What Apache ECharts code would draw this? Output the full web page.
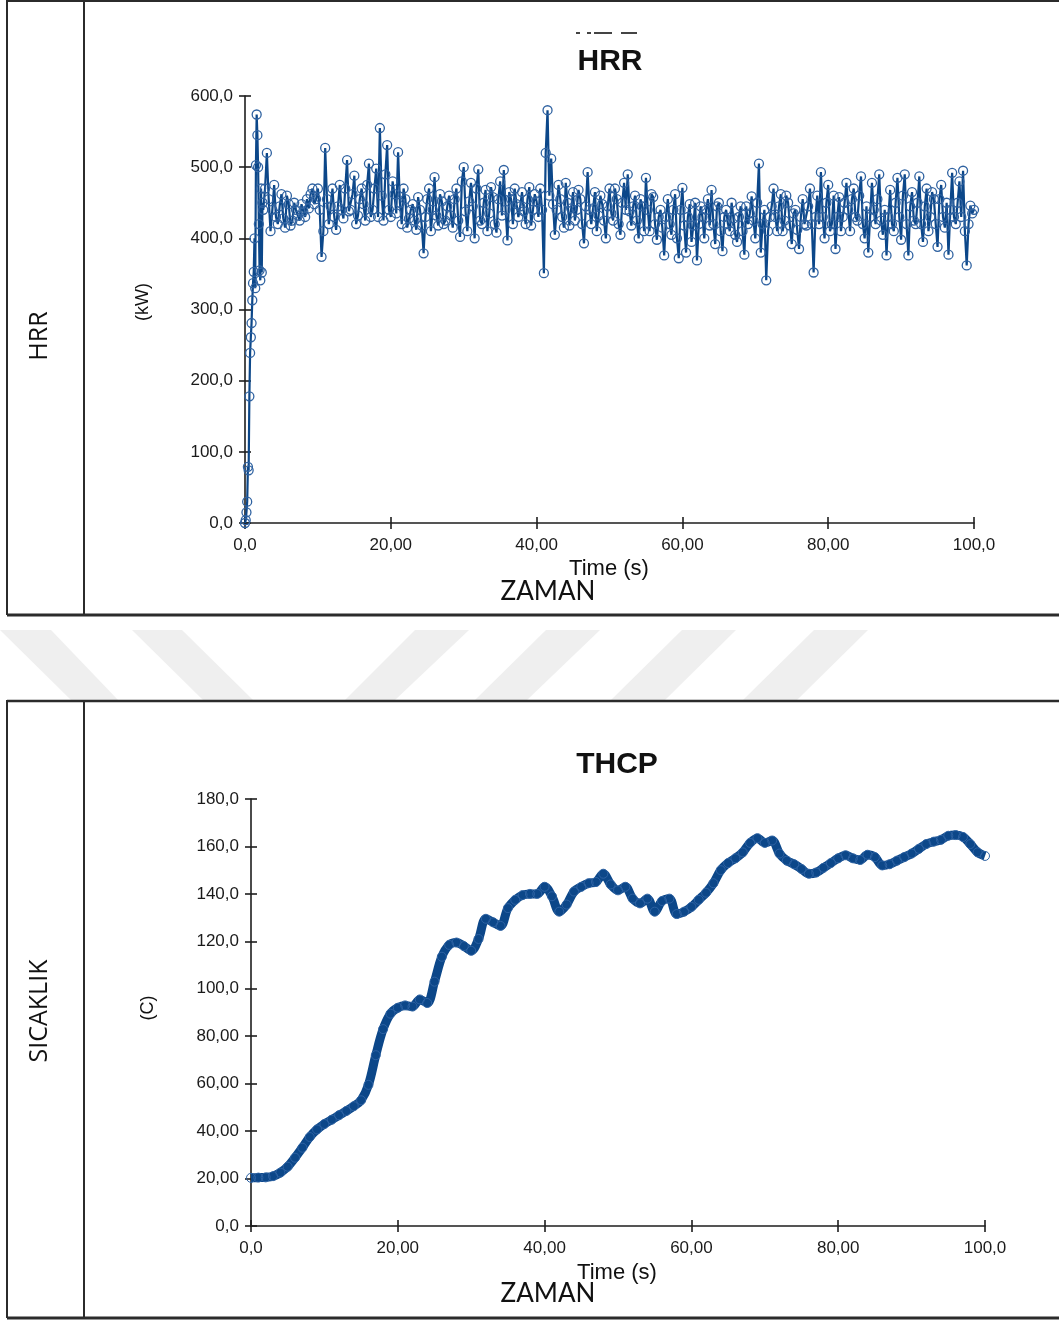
<!DOCTYPE html>
<html>
<head>
<meta charset="utf-8">
<title>HRR / THCP</title>
<script src="https://cdn.jsdelivr.net/npm/echarts@6/dist/echarts.min.js"></script>
<style>
  html, body { margin: 0; padding: 0; background: #fff; }
  #chart { width: 1059px; height: 1320px; }
</style>
</head>
<body>
<div id="chart"></div>
<script>
// ---- Heat release rate (kW) ----
// fast ignition ramp, [time s, kW]
const hrrRamp = [
  [0, 0], [0.1, 4], [0.2, 15], [0.3, 30], [0.4, 79], [0.5, 74], [0.6, 178],
  [0.7, 239], [0.8, 261], [0.9, 281], [1.0, 313], [1.1, 337], [1.2, 353],
  [1.3, 400], [1.4, 330], [1.5, 503], [1.6, 574], [1.7, 545], [1.8, 500],
  [1.9, 420], [2.0, 355], [2.1, 341], [2.2, 470], [2.3, 352], [2.4, 450]
];
// steady burning, readings on the half second: 2.5 s ... 100 s
const HRR_T0 = 2.5;
const HRR_STEP = 0.5;
const hrrValues = [
  440, 520, 410, 475, 420, 462, 415, 448, 425, 440,   // 2.5 - 7.0
  425, 438, 455, 462, 448, 470, 374, 527, 420, 470,   // 7.5 - 12.0
  412, 475, 428, 510, 440, 488, 432, 470, 425, 505,   // 12.5 - 17.0
  440, 498, 555, 425, 531, 430, 462, 521, 420, 455,   // 17.5 - 22.0
  428, 448, 412, 440, 379, 455, 410, 486, 418, 452,   // 22.5 - 27.0
  425, 460, 415, 470, 402, 500, 410, 478, 400, 497,   // 27.5 - 32.0
  420, 468, 435, 458, 408, 480, 496, 397, 455, 470,   // 32.5 - 37.0
  430, 465, 420, 472, 440, 452, 470, 351, 580, 512,   // 37.5 - 42.0
  405, 475, 430, 478, 418, 465, 440, 455, 393, 493,   // 42.5 - 47.0
  420, 465, 432, 448, 400, 470, 425, 455, 405, 478,   // 47.5 - 52.0
  490, 418, 460, 400, 445, 485, 410, 458, 398, 440,   // 52.5 - 57.0
  376, 455, 405, 462, 372, 471, 380, 448, 418, 369,   // 57.5 - 62.0
  445, 400, 455, 468, 392, 450, 382, 440, 410, 428,   // 62.5 - 67.0
  395, 445, 377, 420, 459, 400, 505, 420, 341, 430,   // 67.5 - 72.0
  470, 410, 462, 425, 450, 392, 440, 385, 455, 418,   // 72.5 - 77.0
  470, 352, 460, 493, 400, 475, 420, 385, 458, 430,   // 77.5 - 82.0
  478, 410, 470, 425, 487, 400, 380, 478, 420, 490,   // 82.5 - 87.0
  405, 376, 468, 410, 485, 398, 490, 376, 465, 420,   // 87.5 - 92.0
  487, 395, 470, 430, 455, 388, 475, 415, 377, 492,   // 92.5 - 97.0
  420, 480, 495, 362, 446, 440                        // 97.5 - 100.0
];
// readings between those, on the quarter: 2.75 s ... 99.75 s
const HRR_MID_T0 = 2.75;
const hrrMidValues = [
  470, 455, 440, 430, 445, 428, 460, 418, 450, 432,   // 2.75 - 7.25
  448, 430, 442, 470, 455, 440, 410, 455, 445, 430,   // 7.75 - 12.25
  445, 440, 470, 438, 462, 420, 455, 448, 475, 430,   // 12.75 - 17.25
  470, 430, 460, 490, 440, 480, 435, 450, 470, 415,   // 17.75 - 22.25
  440, 425, 458, 418, 430, 470, 440, 432, 462, 420,   // 22.75 - 27.25
  445, 432, 455, 425, 480, 438, 452, 445, 470, 425,   // 27.75 - 32.25
  450, 410, 472, 420, 455, 432, 440, 465, 420, 448,   // 32.75 - 37.25
  445, 438, 455, 418, 462, 430, 440, 520, 460, 448,   // 37.75 - 42.25
  440, 455, 415, 450, 442, 425, 468, 420, 445, 440,   // 42.75 - 47.25
  442, 410, 460, 425, 445, 435, 470, 420, 450, 440,   // 47.75 - 52.25
  438, 445, 425, 455, 410, 440, 462, 420, 430, 415,   // 52.75 - 57.25
  430, 420, 440, 400, 440, 418, 430, 395, 450, 420,   // 57.75 - 62.25
  430, 440, 418, 420, 445, 410, 430, 420, 450, 405,   // 62.75 - 67.25
  430, 410, 445, 435, 425, 450, 380, 440, 410, 445,   // 67.75 - 72.25
  430, 445, 410, 460, 418, 435, 412, 430, 420, 445,   // 72.75 - 77.25
  420, 430, 420, 430, 450, 410, 460, 430, 410, 450,   // 77.75 - 82.25
  440, 455, 430, 460, 420, 445, 430, 440, 455, 425,   // 82.75 - 87.25
  440, 430, 420, 450, 430, 460, 420, 445, 425, 450,   // 87.75 - 92.25
  420, 445, 410, 465, 420, 455, 430, 450, 440, 430,   // 92.75 - 97.25
  450, 430, 410, 420, 435                             // 97.75 - 99.75
];

// ---- Thermocouple temperature (C), one reading per second, 0 - 100 s ----
const thcpValues = [
  20.3, 20.4, 20.5, 21.0, 22.5, 25.0, 28.8, 33.0, 37.5, 40.7,      // 0 - 9
  43.0, 44.8, 46.7, 48.5, 50.5, 53.0, 59.5, 72.0, 83.0, 89.5,      // 10 - 19
  92.0, 93.0, 92.5, 95.5, 94.0, 103.0, 113.5, 118.5, 119.5, 118.0, // 20 - 29
  116.0, 121.0, 129.5, 128.0, 126.5, 134.0, 137.5, 139.5, 140.0, 140.0, // 30 - 39
  143.0, 139.0, 132.5, 135.5, 141.0, 143.0, 144.5, 145.0, 148.5, 144.0, // 40 - 49
  141.5, 143.0, 138.0, 136.0, 138.0, 132.5, 137.0, 138.0, 131.5, 132.5, // 50 - 59
  134.5, 137.5, 140.5, 144.5, 150.0, 153.0, 155.0, 157.5, 161.5, 163.5, // 60 - 69
  161.5, 162.5, 157.0, 154.0, 152.5, 150.5, 148.5, 149.0, 151.0, 153.0, // 70 - 79
  155.0, 156.3, 155.0, 154.3, 156.5, 155.5, 152.0, 152.5, 154.0, 155.5, // 80 - 89
  157.0, 159.0, 161.0, 162.0, 162.8, 164.5, 164.8, 164.0, 161.0, 157.5, // 90 - 99
  156.0                                                               // 100
];

// ---- axis tick labels ----
const timeTicks = ['0,0', '20,00', '40,00', '60,00', '80,00', '100,0'];
const hrrTicks = ['0,0', '100,0', '200,0', '300,0', '400,0', '500,0', '600,0'];
const thcpTicks = ['0,0', '20,00', '40,00', '60,00', '80,00', '100,0', '120,0', '140,0', '160,0', '180,0'];

// ---- series data ----
const hrrData = hrrRamp
  .concat(hrrValues.map((v, i) => [HRR_T0 + i * HRR_STEP, v]))
  .concat(hrrMidValues.map((v, i) => [HRR_MID_T0 + i * HRR_STEP, v]))
  .sort((a, b) => a[0] - b[0]);
const thcpData = thcpValues.map((v, i) => [i, v]);

const AXIS = '#1e1e1e';
const BLUE = '#0c4789';
const labelFont = { fontFamily: 'Liberation Sans', fontSize: 17, color: '#1a1a1a' };

function fromTicks(list, step) {
  return v => list[Math.round(v / step)];
}

function mainX(grid, min, max, step, labels) {
  return {
    gridIndex: grid, type: 'value', position: 'bottom', min, max, interval: step,
    axisLine: { onZero: false, lineStyle: { color: AXIS, width: 1.6 } },
    axisTick: { length: 6, lineStyle: { color: AXIS, width: 1.6 } },
    axisLabel: Object.assign({ margin: 14, formatter: fromTicks(labels, step) }, labelFont),
    splitLine: { show: false }
  };
}
function innerX(grid, min, max, step) {
  return {
    gridIndex: grid, type: 'value', position: 'bottom', min, max, interval: step,
    axisLine: { show: false, onZero: false },
    axisTick: { inside: true, length: 6, lineStyle: { color: AXIS, width: 1.6 } },
    axisLabel: { show: false }, splitLine: { show: false }
  };
}
function mainY(grid, min, max, step, labels) {
  return {
    gridIndex: grid, type: 'value', position: 'left', min, max, interval: step,
    axisLine: { show: true, onZero: false, lineStyle: { color: AXIS, width: 1.6 } },
    axisTick: { show: true, length: 6, lineStyle: { color: AXIS, width: 1.6 } },
    axisLabel: Object.assign({ margin: 12, formatter: fromTicks(labels, step) }, labelFont),
    splitLine: { show: false }
  };
}
function innerY(grid, min, max, step) {
  return {
    gridIndex: grid, type: 'value', position: 'left', min, max, interval: step,
    axisLine: { show: false, onZero: false },
    axisTick: { show: true, inside: true, length: 6, lineStyle: { color: AXIS, width: 1.6 } },
    axisLabel: { show: false }, splitLine: { show: false }
  };
}

// ---- page furniture: frames, side captions, titles ----
const FRAME = '#2b2b2b';
function hline(x1, x2, y, w) {
  return { type: 'line', shape: { x1, y1: y, x2, y2: y }, style: { stroke: FRAME, lineWidth: w }, silent: true };
}
function vline(x, y1, y2, w) {
  return { type: 'line', shape: { x1: x, y1, x2: x, y2 }, style: { stroke: FRAME, lineWidth: w }, silent: true };
}
function text(str, x, y, font, extra) {
  return Object.assign({
    type: 'text', x, y,
    style: Object.assign({ text: str, align: 'center', verticalAlign: 'middle', fill: '#111' }, font)
  }, extra || {});
}
function stripe(pts) {
  return { type: 'polygon', shape: { points: pts }, style: { fill: '#efefef' }, silent: true, z: -1 };
}

const graphics = [
  // faint diagonal band between the two panels
  stripe([[0, 630], [51, 630], [118, 700], [71, 700]]),
  stripe([[132, 630], [182, 630], [253, 700], [203, 700]]),
  stripe([[415, 630], [469, 630], [395, 700], [345, 700]]),
  stripe([[546, 630], [600, 630], [527, 700], [475, 700]]),
  stripe([[682, 630], [736, 630], [665, 700], [611, 700]]),
  stripe([[814, 630], [868, 630], [797, 700], [743, 700]]),

  // upper panel frame
  hline(7, 1059, 1, 2), vline(7, 0, 615, 2), vline(84, 0, 615, 2), hline(7, 1059, 615, 3),
  // lower panel frame
  hline(7, 1059, 701, 2.5), vline(7, 700, 1318, 2), vline(84, 700, 1318, 2), hline(7, 1059, 1318, 3),

  // row captions
  text('HRR', 40, 336, { fontFamily: 'Open Sans', fontSize: 25 }, { rotation: Math.PI / 2 }),
  text('SICAKLIK', 40, 1011, { fontFamily: 'Open Sans', fontSize: 25 }, { rotation: Math.PI / 2 }),

  // cut-off caption remnant above the first title
  { type: 'rect', shape: { x: 576, y: 32, width: 4, height: 2 }, style: { fill: '#444' }, silent: true },
  { type: 'rect', shape: { x: 587, y: 32, width: 4, height: 2 }, style: { fill: '#444' }, silent: true },
  { type: 'rect', shape: { x: 594, y: 32, width: 18, height: 2 }, style: { fill: '#444' }, silent: true },
  { type: 'rect', shape: { x: 621, y: 32, width: 16, height: 2 }, style: { fill: '#444' }, silent: true },

  // chart titles
  text('HRR', 610, 62, { fontFamily: 'Liberation Sans', fontSize: 30, fontWeight: 'bold' }),
  text('THCP', 617, 765, { fontFamily: 'Liberation Sans', fontSize: 30, fontWeight: 'bold' }),

  // axis names
  text('(kW)', 143, 302, { fontFamily: 'Liberation Sans', fontSize: 18 }, { rotation: Math.PI / 2 }),
  text('(C)', 148, 1008, { fontFamily: 'Liberation Sans', fontSize: 18 }, { rotation: Math.PI / 2 }),
  text('Time (s)', 609, 569, { fontFamily: 'Liberation Sans', fontSize: 22 }),
  text('Time (s)', 617, 1273, { fontFamily: 'Liberation Sans', fontSize: 22 }),
  text('ZAMAN', 548, 592, { fontFamily: 'Lato', fontSize: 26 }),
  text('ZAMAN', 548, 1294, { fontFamily: 'Lato', fontSize: 26 })
];

const option = {
  animation: false,
  backgroundColor: '#ffffff',
  grid: [
    { left: 245, top: 96, width: 729, height: 427 },
    { left: 251, top: 799, width: 734, height: 427 }
  ],
  xAxis: [
    mainX(0, 0, 100, 20, timeTicks), innerX(0, 0, 100, 20),
    mainX(1, 0, 100, 20, timeTicks), innerX(1, 0, 100, 20)
  ],
  yAxis: [
    mainY(0, 0, 600, 100, hrrTicks), innerY(0, 0, 600, 100),
    mainY(1, 0, 180, 20, thcpTicks), innerY(1, 0, 180, 20)
  ],
  graphic: graphics,
  series: [
    {
      name: 'HRR', type: 'line', xAxisIndex: 0, yAxisIndex: 0,
      data: hrrData,
      showSymbol: true, showAllSymbol: true, symbol: 'circle', symbolSize: 9,
      itemStyle: { color: 'rgba(0,0,0,0)', borderColor: '#2f62a1', borderWidth: 1.3 },
      lineStyle: { color: BLUE, width: 2.2 },
      z: 3
    },
    {
      name: 'THCP', type: 'line', xAxisIndex: 2, yAxisIndex: 2,
      data: thcpData, smooth: 0.35,
      showSymbol: true, showAllSymbol: true, symbol: 'circle', symbolSize: 9,
      itemStyle: { color: 'rgba(0,0,0,0)', borderColor: '#2d62a3', borderWidth: 1 },
      lineStyle: { color: BLUE, width: 9 },
      z: 3
    }
  ]
};

const chart = echarts.init(document.getElementById('chart'), null, { renderer: 'canvas' });
chart.setOption(option);
</script>
</body>
</html>
